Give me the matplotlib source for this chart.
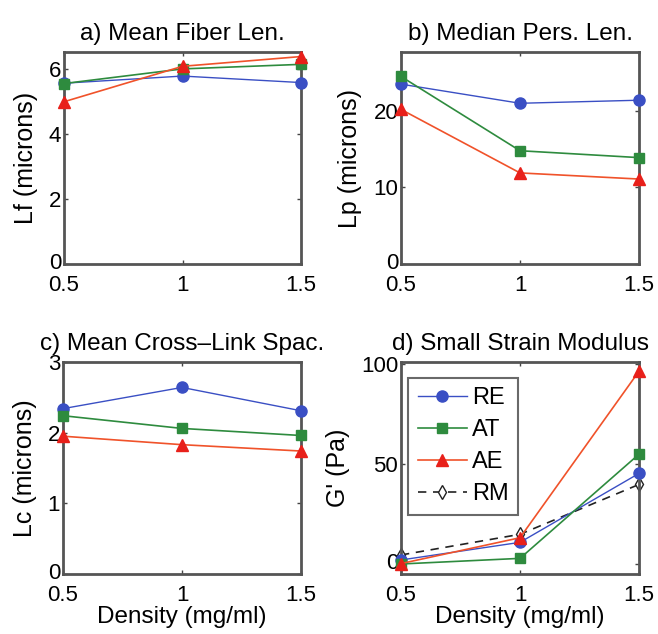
import numpy as np
import matplotlib
matplotlib.use("Agg")
import matplotlib.pyplot as plt
from matplotlib.transforms import ScaledTranslation

plt.rcParams['font.family'] = ['Liberation Sans', 'DejaVu Sans']

density = [0.5, 1.0, 1.5]
series = ["RE", "AT", "AE"]

# a) mean fiber length (microns)
lf_re = [5.56, 5.78, 5.58]
lf_at = [5.55, 6.00, 6.14]
lf_ae = [4.99, 6.08, 6.38]

# b) median persistence length (microns)
lp_re = [23.5, 21.0, 21.4]
lp_at = [24.5, 14.8, 13.9]
lp_ae = [20.2, 11.9, 11.1]

# c) mean cross-link spacing (microns)
lc_re = [2.34, 2.64, 2.31]
lc_at = [2.24, 2.06, 1.96]
lc_ae = [1.95, 1.83, 1.74]

# d) small strain modulus (Pa)
g_re = [2.0, 10.8, 45.2]
g_at = [0.0, 2.8, 54.8]
g_ae = [0.2, 13.1, 96.2]
g_rm = [4.5, 14.8, 39.7]

blue = '#3a4fc4'
green = '#2e8b3e'
red = '#f0522a'
red_m = '#e8201a'

W, H = 658, 634
fig = plt.figure(figsize=(W/100, H/100), dpi=100)

def make_ax(x0, y0, x1, y1):
    return fig.add_axes([x0/W, 1 - y1/H, (x1-x0)/W, (y1-y0)/H])

def style(ax, title, ylabel, ylim, yticks, xlabel=None):
    ax.set_xlim(0.5, 1.5)
    ax.set_ylim(*ylim)
    ax.set_xticks([0.5, 1, 1.5])
    ax.set_xticklabels(['0.5', '1', '1.5'])
    ax.set_yticks(yticks)
    ax.tick_params(direction='in', top=True, right=True, labelsize=16,
                   color='#444444', length=3, width=1)
    ax.tick_params(axis='x', pad=8)
    ax.tick_params(axis='y', pad=2)
    # lift the lowest y label a little so it clears the x labels
    lab0 = ax.get_yticklabels()[0]
    lab0.set_transform(lab0.get_transform() + ScaledTranslation(0, 3/100, fig.dpi_scale_trans))
    for s in ax.spines.values():
        s.set_color('#555555')
        s.set_linewidth(2)
    ax.set_title(title, fontsize=17.5, pad=9)
    ax.set_ylabel(ylabel, fontsize=18, labelpad=8)
    if xlabel:
        ax.set_xlabel(xlabel, fontsize=17.5, labelpad=0)

def three(ax, re, at, ae):
    ax.plot(density, re, '-o', color=blue, lw=1, ms=8, mfc=blue, mec=blue, label='RE', clip_on=False, zorder=3)
    ax.plot(density, at, '-s', color=green, lw=1.2, ms=7, mfc=green, mec=green, label='AT', clip_on=False, zorder=3)
    ax.plot(density, ae, '-^', color=red, lw=1.2, ms=8, mfc=red_m, mec=red_m, label='AE', clip_on=False, zorder=3)

ax_a = make_ax(64, 52, 301, 264)
three(ax_a, lf_re, lf_at, lf_ae)
style(ax_a, 'a) Mean Fiber Len.', 'Lf (microns)', (0, 6.52), [0, 2, 4, 6])

ax_b = make_ax(401, 52, 639, 264)
three(ax_b, lp_re, lp_at, lp_ae)
style(ax_b, 'b) Median Pers. Len.', 'Lp (microns)', (0, 27.7), [0, 10, 20])

ax_c = make_ax(63, 362, 301, 574)
three(ax_c, lc_re, lc_at, lc_ae)
style(ax_c, 'c) Mean Cross\u2013Link Spac.', 'Lc (microns)', (0, 3), [0, 1, 2, 3],
      xlabel='Density (mg/ml)')

ax_d = make_ax(401, 362, 639, 574)
three(ax_d, g_re, g_at, g_ae)
ax_d.plot(density, g_rm, '--d', color='#222222', lw=1.2, ms=7, mfc='white', mec='#222222',
          dashes=(5, 4), label='RM', clip_on=False, zorder=2)
style(ax_d, 'd) Small Strain Modulus', "G' (Pa)", (-5, 100.8), [0, 50, 100],
      xlabel='Density (mg/ml)')
leg = ax_d.legend(loc='upper left', bbox_to_anchor=(0.03, 0.925), fontsize=17,
                  frameon=True, fancybox=False, handlelength=2.1, handletextpad=0.2,
                  borderpad=0.4, labelspacing=0.42, borderaxespad=0)
leg.get_frame().set_edgecolor('#444444')
leg.get_frame().set_linewidth(1.5)

fig.savefig('out.png', dpi=100)
